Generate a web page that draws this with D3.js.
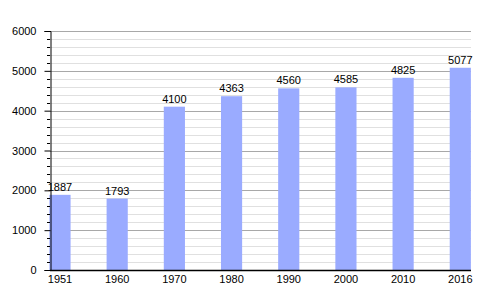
<!DOCTYPE html>
<html><head><meta charset="utf-8">
<script src="https://cdn.jsdelivr.net/npm/d3@7"></script>
<style>body{margin:0;background:#fff}svg{display:block}</style>
</head><body>
<script>
const years = ["1951","1960","1970","1980","1990","2000","2010","2016"];
const population = [1887,1793,4100,4363,4560,4585,4825,5077];
const yTicks = [0,1000,2000,3000,4000,5000,6000];

const W=500,H=300;
const svg=d3.select("body").append("svg").attr("width",W).attr("height",H);
const x0=50, x1=471, yTop=31, yBot=270;
const y=d3.scaleLinear().domain([0,6000]).range([yBot,yTop]);
const x=d3.scaleBand().domain(years).range([31.4,488.9]).paddingInner(0.63).paddingOuter(0.315);

// minor grid
const minor=d3.range(200,6001,200).filter(v=>v%1000!==0);
svg.append("g").selectAll("line").data(minor).join("line")
  .attr("x1",x0).attr("x2",x1).attr("y1",d=>Math.round(y(d))+0.5).attr("y2",d=>Math.round(y(d))+0.5)
  .attr("stroke","#e0e0e0").attr("stroke-width",1);
svg.append("g").selectAll("line").data(yTicks.filter(v=>v>0)).join("line")
  .attr("x1",x0).attr("x2",x1).attr("y1",d=>Math.round(y(d))+0.5).attr("y2",d=>Math.round(y(d))+0.5)
  .attr("stroke","#a8a8a8").attr("stroke-width",1);

// bars
svg.append("g").selectAll("rect").data(population).join("rect")
  .attr("x",(d,i)=>x(years[i])).attr("width",x.bandwidth())
  .attr("y",d=>y(d)).attr("height",d=>yBot-y(d)).attr("fill","#9aabff");

// value labels
svg.append("g").selectAll("text").data(population).join("text")
  .attr("x",(d,i)=>x(years[i])+x.bandwidth()/2).attr("y",d=>y(d)-4)
  .attr("text-anchor","middle").attr("font-family","Liberation Sans, Arial, sans-serif")
  .attr("font-size",11).attr("fill","#000").text(d=>d);

// y axis
const ya=svg.append("g").attr("transform",`translate(${x0+0.5},0)`)
  .call(d3.axisLeft(y).tickValues(yTicks).tickSize(6).tickPadding(8).tickFormat(d3.format("d")));
ya.select(".domain").attr("stroke","#000");
ya.selectAll("text").attr("font-family","Liberation Sans, Arial, sans-serif").attr("font-size",11).attr("fill","#000");
ya.selectAll("line").attr("stroke","#000");
svg.append("g").selectAll("line").data(minor).join("line")
  .attr("x1",x0-3).attr("x2",x0).attr("y1",d=>Math.round(y(d))+0.5).attr("y2",d=>Math.round(y(d))+0.5)
  .attr("stroke","#000");

// x axis
const xa=svg.append("g").attr("transform",`translate(0,${yBot+0.5})`)
  .call(d3.axisBottom(x).tickSize(0).tickPadding(5));
xa.select(".domain").remove();
xa.selectAll("text").attr("font-family","Liberation Sans, Arial, sans-serif").attr("font-size",11).attr("fill","#000");
svg.append("line").attr("x1",x0).attr("x2",x1).attr("y1",yBot+0.5).attr("y2",yBot+0.5).attr("stroke","#000").attr("stroke-width",1.5);
</script>
</body></html>
